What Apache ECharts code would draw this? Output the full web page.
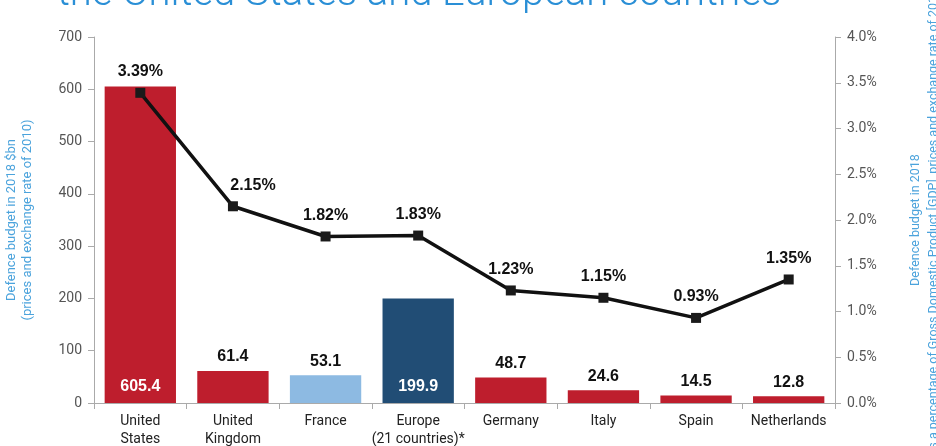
<!DOCTYPE html>
<html>
<head>
<meta charset="utf-8">
<script src="https://cdn.jsdelivr.net/npm/echarts@6/dist/echarts.min.js"></script>
<style>
  html, body { margin: 0; padding: 0; background: #fff; }
  #chart { width: 936px; height: 446px; }
</style>
</head>
<body>
<div id="chart"></div>
<script>
const categories = ['United\nStates', 'United\nKingdom', 'France', 'Europe\n(21 countries)*', 'Germany', 'Italy', 'Spain', 'Netherlands']
const budgetBn = [605.4, 61.4, 53.1, 199.9, 48.7, 24.6, 14.5, 12.8]
const gdpShare = [3.39, 2.15, 1.82, 1.83, 1.23, 1.15, 0.93, 1.35]
const leftTicks = [0, 700, 100]
const rightTicks = [0, 4, 0.5]

const RED = '#be1e2d'
const barColor = { 'France': '#8dbae2', 'Europe\n(21 countries)*': '#214d75' }
const insideLabel = { 'United\nStates': true, 'Europe\n(21 countries)*': true }

const axisFont = "'Liberation Sans Narrow', 'Roboto', sans-serif"
const boldFont = "'Liberation Sans', Arial, sans-serif"
const nameBlue = '#4ba3dc'

const chart = echarts.init(document.getElementById('chart'))

const barData = budgetBn.map((v, i) => {
  const cat = categories[i]
  const inside = !!insideLabel[cat]
  return {
    value: v,
    itemStyle: { color: barColor[cat] || RED },
    label: inside
      ? { position: 'insideBottom', distance: 8, color: '#fff' }
      : { position: 'top', distance: 6, color: '#111' }
  }
})

// the UK label sits right of its point so the line doesn't cross it
const lineData = gdpShare.map((v, i) => i === 1 ? { value: v, label: { offset: [20, 0] } } : v)

chart.setOption({
  animation: false,
  graphic: [{
    type: 'text',
    x: 57,
    y: -25,
    style: {
      text: 'the United States and European countries',
      font: "300 40px Roboto, 'Liberation Sans', Arial, sans-serif",
      fill: '#2a8fd6'
    }
  }],
  grid: { left: 94, right: 101, top: 37, bottom: 43, outerBoundsMode: 'none', containLabel: false },
  xAxis: {
    type: 'category',
    data: categories,
    axisLine: { lineStyle: { color: '#aaa', width: 1 } },
    axisTick: { show: true, interval: 0, length: 6, lineStyle: { color: '#aaa' } },
    axisLabel: { interval: 0, color: '#222', fontFamily: axisFont, fontSize: 14, lineHeight: 18, margin: 9 }
  },
  yAxis: [
    {
      type: 'value',
      min: leftTicks[0],
      max: leftTicks[1],
      interval: leftTicks[2],
      name: 'Defence budget in 2018 $bn\n(prices and exchange rate of 2010)',
      nameLocation: 'middle',
      nameGap: 58,
      nameRotate: 90,
      nameTextStyle: { color: nameBlue, fontFamily: axisFont, fontSize: 13, lineHeight: 16 },
      splitLine: { show: false },
      axisLine: { show: true, lineStyle: { color: '#aaa' } },
      axisTick: { show: true, length: 6, lineStyle: { color: '#aaa' } },
      axisLabel: { color: '#555', fontFamily: axisFont, fontSize: 14, margin: 12 }
    },
    {
      type: 'value',
      min: rightTicks[0],
      max: rightTicks[1],
      interval: rightTicks[2],
      name: 'Defence budget in 2018\nas a percentage of Gross Domestic Product [GDP], prices and exchange rate of 2010)',
      nameLocation: 'middle',
      nameGap: 72,
      nameRotate: 90,
      nameTextStyle: { color: nameBlue, fontFamily: axisFont, fontSize: 12.5, lineHeight: 18 },
      splitLine: { show: false },
      axisLine: { show: true, lineStyle: { color: '#aaa' } },
      axisTick: { show: true, length: 6, lineStyle: { color: '#aaa' } },
      axisLabel: {
        color: '#555', fontFamily: axisFont, fontSize: 14, margin: 12,
        formatter: v => v.toFixed(1) + '%'
      }
    }
  ],
  series: [
    {
      type: 'bar',
      yAxisIndex: 0,
      barWidth: '77%',
      data: barData,
      label: {
        show: true,
        fontFamily: boldFont,
        fontWeight: 'bold',
        fontSize: 16,
        formatter: p => p.value.toFixed(1)
      }
    },
    {
      type: 'line',
      yAxisIndex: 1,
      data: lineData,
      symbol: 'rect',
      symbolSize: 10,
      itemStyle: { color: '#1a1a1a' },
      lineStyle: { color: '#111', width: 3.5 },
      label: {
        show: true,
        position: 'top',
        distance: 8,
        color: '#111',
        fontFamily: boldFont,
        fontWeight: 'bold',
        fontSize: 16,
        formatter: p => p.value.toFixed(2) + '%'
      },
      z: 5
    }
  ]
})
</script>
</body>
</html>
